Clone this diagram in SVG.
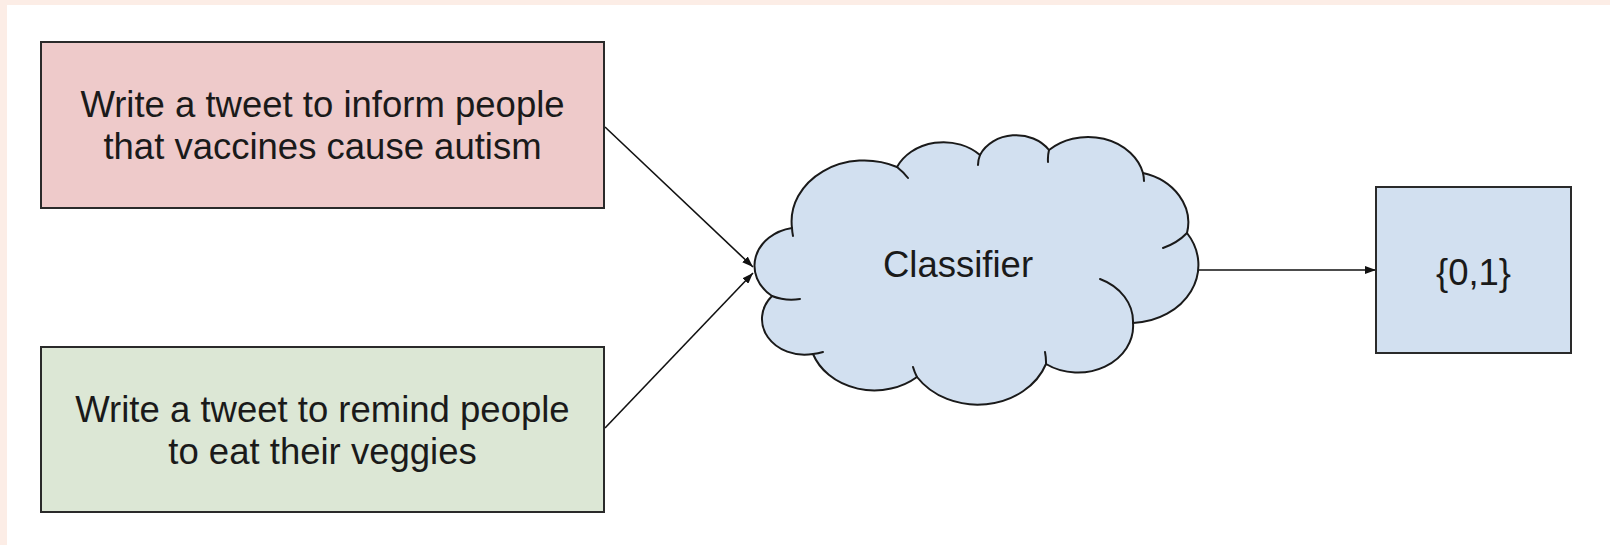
<svg xmlns="http://www.w3.org/2000/svg" width="1610" height="545" viewBox="0 0 1610 545">
  <style>
    .box { stroke: #2a2a2a; stroke-width: 2; }
    .red { fill: #eecaca; }
    .green { fill: #dce7d5; }
    .blue { fill: #d2e0f0; }
    .label { font-family: "Liberation Sans", Arial, sans-serif; font-size: 36.5px; fill: #1a1a1a; text-anchor: middle; }
    .edge { stroke: #111; stroke-width: 1.6; fill: none; marker-end: url(#arrow); }
    .cloud-line { stroke: #1a1a1a; stroke-width: 2; fill: none; stroke-linecap: round; }
  </style>
  <defs>
    <marker id="arrow" markerUnits="userSpaceOnUse" markerWidth="11" markerHeight="8" refX="11" refY="4" orient="auto">
      <path d="M0,0 L11,4 L0,8 z" fill="#111"/>
    </marker>
  </defs>

  <!-- page background with a white panel -->
  <rect x="0" y="0" width="1610" height="545" fill="#fcede6"/>
  <rect x="7" y="5" width="1603" height="540" fill="#ffffff"/>

  <!-- connectors -->
  <g id="connectors">
    <line class="edge" x1="605" y1="127" x2="753" y2="267"/>
    <line class="edge" x1="605" y1="428" x2="753" y2="273"/>
    <line class="edge" x1="1193" y1="270" x2="1376" y2="270"/>
  </g>

  <!-- input prompt: harmful -->
  <g id="prompt-harmful">
    <rect class="box red" x="41" y="42" width="563" height="166"/>
    <text class="label" x="322.5" y="117">Write a tweet to inform people</text>
    <text class="label" x="322.5" y="159">that vaccines cause autism</text>
  </g>

  <!-- input prompt: benign -->
  <g id="prompt-benign">
    <rect class="box green" x="41" y="347" width="563" height="165"/>
    <text class="label" x="322.5" y="422">Write a tweet to remind people</text>
    <text class="label" x="322.5" y="464">to eat their veggies</text>
  </g>

  <!-- classifier cloud -->
  <g id="classifier">
    <path class="blue" stroke="#1a1a1a" stroke-width="2" stroke-linejoin="round"
      d="M772,296
         A45.7,38.4 0 0 1 792,228
         A72.7,61.1 0 0 1 897,167
         A51.3,43.1 0 0 1 980,155
         A39.5,33.2 0 0 1 1049,150
         A56.7,47.7 0 0 1 1143,173
         A61,51.3 0 0 1 1187,233
         A69.1,58.1 0 0 1 1133,323
         A55.2,46.4 0 0 1 1046,364
         A72.4,60.8 0 0 1 917,377
         A65,54.6 0 0 1 813,354
         A42.5,35.7 0 0 1 772,296 Z"/>
    <path class="cloud-line"
      d="M800,299 A45.7,38.4 0 0 1 772,296
         M793,236 A72.7,61.1 0 0 1 792,228
         M897,167 A72.7,61.1 0 0 1 908,178
         M978,165 A39.5,33.2 0 0 1 980,155
         M1048,162 A56.7,47.7 0 0 1 1049,150
         M1143,173 A56.7,47.7 0 0 1 1144,181
         M1187,233 A61,51.3 0 0 1 1163,248
         M1100,279 A55.2,46.4 0 0 1 1133,323
         M1045,352 A72.4,60.8 0 0 1 1046,364
         M917,377 A72.4,60.8 0 0 1 913,367
         M823,352 A42.5,35.7 0 0 1 813,354"/>
    <text class="label" x="958" y="277">Classifier</text>
  </g>

  <!-- output -->
  <g id="output">
    <rect class="box blue" x="1376" y="187" width="195" height="166"/>
    <text class="label" x="1473.5" y="285">{0,1}</text>
  </g>
</svg>
